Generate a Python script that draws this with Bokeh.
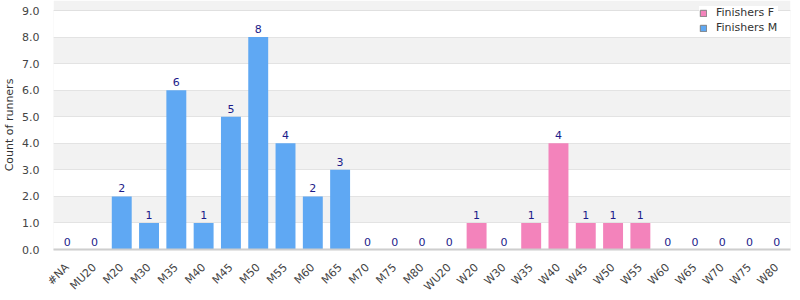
from math import pi
from bokeh.plotting import figure
from bokeh.models import (ColumnDataSource, NumeralTickFormatter, FixedTicker, Range1d, Legend,
                          LegendItem, BoxAnnotation)
from bokeh.core.properties import value
from bokeh.embed import file_html
from bokeh.resources import INLINE

categories = ["#NA", "MU20", "M20", "M30", "M35", "M40", "M45", "M50", "M55", "M60", "M65",
              "M70", "M75", "M80", "WU20", "W20", "W30", "W35", "W40", "W45", "W50", "W55",
              "W60", "W65", "W70", "W75", "W80"]
cats_m = ["#NA", "MU20", "M20", "M30", "M35", "M40", "M45", "M50", "M55", "M60", "M65",
          "M70", "M75", "M80"]
vals_m = [0, 0, 2, 1, 6, 1, 5, 8, 4, 2, 3, 0, 0, 0]
cats_f = ["WU20", "W20", "W30", "W35", "W40", "W45", "W50", "W55", "W60", "W65", "W70", "W75", "W80"]
vals_f = [0, 1, 0, 1, 4, 1, 1, 1, 0, 0, 0, 0, 0]
y_ticks = [0, 1, 2, 3, 4, 5, 6, 7, 8, 9]
y_max = 9

FONT = "DejaVu Sans"
BLUE = "#5fa8f3"
PINK = "#f383bb"

# frame spans the full top of the canvas so the legend can overlap the top border line
PLOT_H = 239  # pixel height of the 0..9 area
y_top = y_max * (PLOT_H + 10) / PLOT_H

p = figure(x_range=categories, width=800, height=300, output_backend="svg",
           toolbar_location=None, y_range=Range1d(0, y_top),
           min_border_left=51, min_border_right=10, min_border_top=0, min_border_bottom=51)

src_m = ColumnDataSource(dict(x=cats_m, top=vals_m, lbl=[str(v) for v in vals_m]))
src_f = ColumnDataSource(dict(x=cats_f, top=vals_f, lbl=[str(v) for v in vals_f]))

p.vbar(x="x", top="top", width=0.73, source=src_f, fill_color=PINK, line_color=None)
p.vbar(x="x", top="top", width=0.73, source=src_m, fill_color=BLUE, line_color=None)

# legend-only swatches (with grey outline like the reference), drawn out of view
lf = p.vbar(x=["#NA"], top=[-2], bottom=[-3], width=0.73, fill_color=PINK,
            line_color="#808080", line_width=1)
lm = p.vbar(x=["#NA"], top=[-2], bottom=[-3], width=0.73, fill_color=BLUE,
            line_color="#808080", line_width=1)

for s in (src_m, src_f):
    p.text(x="x", y="top", text="lbl", source=s, text_align="center", text_baseline="bottom",
           y_offset=-4, text_font=value(FONT), text_font_size="11px", text_color="#1c1c8a")

p.yaxis.ticker = FixedTicker(ticks=y_ticks)
p.yaxis.formatter = NumeralTickFormatter(format="0.0")
p.yaxis.axis_label = "Count of runners"
p.yaxis.axis_label_text_font = FONT
p.yaxis.axis_label_text_font_size = "11px"
p.yaxis.axis_label_text_font_style = "normal"
p.yaxis.axis_label_text_color = "#333333"
p.yaxis.axis_line_color = None
p.yaxis.major_tick_line_color = None
p.yaxis.minor_tick_line_color = None
p.yaxis.axis_label_standoff = 3
p.yaxis.major_label_standoff = 8

for ax in (p.xaxis, p.yaxis):
    ax.major_label_text_font = FONT
    ax.major_label_text_font_size = "11px"
    ax.major_label_text_color = "#444444"

p.xaxis.major_label_orientation = pi / 4
p.xaxis.major_label_standoff = 10
p.xaxis.axis_line_color = "#cccccc"
p.xaxis.axis_line_width = 2
p.xaxis.major_tick_line_color = None
p.xaxis.minor_tick_line_color = None

p.xgrid.grid_line_color = None
p.ygrid.grid_line_color = "#e3e3e3"
p.ygrid.band_fill_color = "#f2f2f2"
p.ygrid.band_fill_alpha = 1.0

p.outline_line_color = None
p.background_fill_color = "white"
p.border_fill_color = "white"

# plot-area border from 0 to 9
p.add_layout(BoxAnnotation(top=y_max, fill_alpha=0, line_color="#d9d9d9", line_width=1))

legend = Legend(items=[LegendItem(label="Finishers F", renderers=[lf]),
                       LegendItem(label="Finishers M", renderers=[lm])],
                location=(646, 215), label_text_font=FONT, label_text_font_size="11px",
                label_text_color="#333333", glyph_width=8, glyph_height=8,
                label_height=10, label_width=62, spacing=2, padding=3, margin=0,
                label_standoff=9,
                border_line_color=None, background_fill_color="white", background_fill_alpha=1.0)
p.add_layout(legend)

open("out.html", "w").write(file_html(p, INLINE))
